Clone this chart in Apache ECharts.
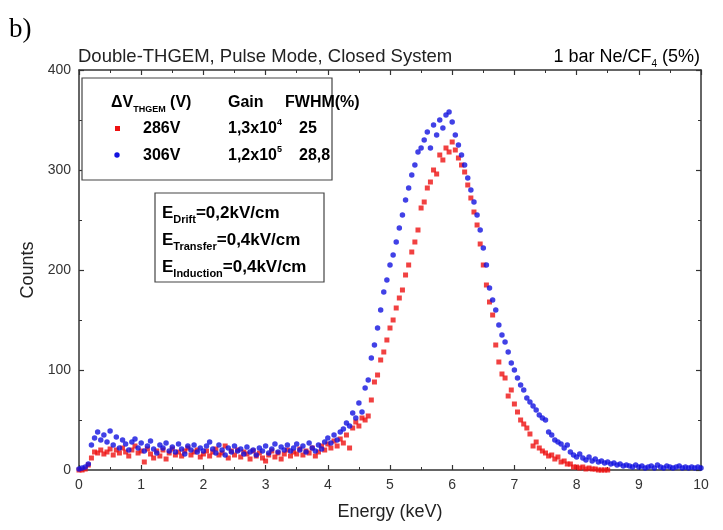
<!DOCTYPE html>
<html>
<head>
<meta charset="utf-8">
<script src="https://cdn.jsdelivr.net/npm/echarts@6/dist/echarts.min.js"></script>
<style>html,body{margin:0;padding:0;background:#fff}#c{width:723px;height:530px}</style>
</head>
<body>
<div id="c"></div>
<script>
// Energy bins (keV)
var energy = [
0,0.05,0.1,0.15,0.2,0.25,0.3,0.35,0.4,0.45,0.5,0.55,0.6,0.65,0.7,0.75,0.8,0.85,0.9,0.95,
1,1.05,1.1,1.15,1.2,1.25,1.3,1.35,1.4,1.45,1.5,1.55,1.6,1.65,1.7,1.75,1.8,1.85,1.9,1.95,
2,2.05,2.1,2.15,2.2,2.25,2.3,2.35,2.4,2.45,2.5,2.55,2.6,2.65,2.7,2.75,2.8,2.85,2.9,2.95,
3,3.05,3.1,3.15,3.2,3.25,3.3,3.35,3.4,3.45,3.5,3.55,3.6,3.65,3.7,3.75,3.8,3.85,3.9,3.95,
4,4.05,4.1,4.15,4.2,4.25,4.3,4.35,4.4,4.45,4.5,4.55,4.6,4.65,4.7,4.75,4.8,4.85,4.9,4.95,
5,5.05,5.1,5.15,5.2,5.25,5.3,5.35,5.4,5.45,5.5,5.55,5.6,5.65,5.7,5.75,5.8,5.85,5.9,5.95,
6,6.05,6.1,6.15,6.2,6.25,6.3,6.35,6.4,6.45,6.5,6.55,6.6,6.65,6.7,6.75,6.8,6.85,6.9,6.95,
7,7.05,7.1,7.15,7.2,7.25,7.3,7.35,7.4,7.45,7.5,7.55,7.6,7.65,7.7,7.75,7.8,7.85,7.9,7.95,
8,8.05,8.1,8.15,8.2,8.25,8.3,8.35,8.4,8.45,8.5,8.55,8.6,8.65,8.7,8.75,8.8,8.85,8.9,8.95,
9,9.05,9.1,9.15,9.2,9.25,9.3,9.35,9.4,9.45,9.5,9.55,9.6,9.65,9.7,9.75,9.8,9.85,9.9,9.95,10
];
// 286V counts (0 .. 8.5 keV)
var counts286 = [
0,0,1,5,12,18,17,20,16,18,21,15,20,17,22,18,14,20,24,17,
19,8,21,16,12,19,14,20,11,17,21,15,18,14,19,22,15,18,20,13,
16,19,14,18,21,15,17,24,12,19,15,20,13,18,16,11,19,14,17,12,
9,15,19,13,17,11,16,20,14,18,16,21,15,19,17,22,14,18,24,20,
26,22,29,24,31,27,35,22,42,48,44,52,50,54,70,88,95,110,118,130,
142,150,162,172,180,195,205,218,228,240,262,268,282,288,300,296,315,310,322,318,
328,320,312,305,298,285,272,258,245,226,205,185,168,155,125,108,96,92,74,80,
66,58,50,46,42,36,24,28,22,19,17,14,15,11,13,8,9,6,6,3,
3,2,3,1,2,1,1,0,0,0,0
];
// 306V counts (0 .. 10 keV)
var counts306 = [
1,2,3,6,25,32,38,30,35,28,39,25,33,22,30,26,20,28,31,22,
27,19,24,29,21,17,25,22,27,19,23,18,26,21,16,24,20,25,18,22,
19,24,28,21,17,25,20,15,22,18,24,19,21,16,23,18,20,15,22,19,
24,17,21,26,18,23,20,25,19,22,26,20,24,18,27,22,19,25,21,28,
32,27,35,30,38,41,47,44,57,52,67,58,82,90,112,125,142,160,178,190,
205,215,228,242,255,270,282,295,305,318,322,330,338,322,345,335,350,342,355,358,
348,335,325,315,305,292,280,268,255,240,222,205,182,170,160,145,135,128,118,107,
100,92,85,80,72,68,64,60,55,52,50,38,35,30,28,26,22,25,18,15,
13,16,12,10,13,9,11,8,9,7,8,6,7,5,6,4,5,4,3,5,
3,4,2,3,4,2,5,3,2,4,3,2,3,4,2,3,2,3,2,3,2
];
var xTicks = [0,1,2,3,4,5,6,7,8,9,10];
var yTicks = [0,100,200,300,400];

function pairs(vals){ var out=[]; for(var i=0;i<vals.length;i++){ out.push([energy[i], vals[i]]); } return out; }

var F = '"Liberation Sans", Arial, sans-serif';
var axisCol = '#333';
function mkAxis(pos, isX, show){
  return {
    type:'value', position:pos,
    min: isX ? xTicks[0] : yTicks[0],
    max: isX ? xTicks[xTicks.length-1] : yTicks[yTicks.length-1],
    interval: isX ? 1 : 100,
    axisLine:{show:true, onZero:false, lineStyle:{color:axisCol, width:1.5}},
    axisTick:{show:true, inside:true, length:5, lineStyle:{color:axisCol, width:1.2}},
    minorTick:{show:true, splitNumber:2, length:3, lineStyle:{color:axisCol, width:1}},
    splitLine:{show:false},
    axisLabel:{show:show, color:'#333', fontFamily:F, fontSize:14, margin:8},
    name: show ? (isX ? 'Energy (keV)' : 'Counts') : '',
    nameLocation:'middle',
    nameGap: isX ? 33 : 40,
    nameTextStyle:{color:'#222', fontFamily:F, fontSize:18}
  };
}

var chart = echarts.init(document.getElementById('c'), null, {renderer:'canvas'});
var rich = {
  a:{fontFamily:F, fontSize:16, fontWeight:'bold', color:'#111', lineHeight:22},
  s:{fontFamily:F, fontSize:9, fontWeight:'bold', color:'#111', verticalAlign:'bottom', lineHeight:10},
  p:{fontFamily:F, fontSize:9, fontWeight:'bold', color:'#111', verticalAlign:'top', lineHeight:10},
  e:{fontFamily:F, fontSize:17, fontWeight:'bold', color:'#111', lineHeight:24},
  es:{fontFamily:F, fontSize:11, fontWeight:'bold', color:'#111', verticalAlign:'bottom', lineHeight:11},
  n:{fontFamily:F, fontSize:18, color:'#222', lineHeight:24},
  ns:{fontFamily:F, fontSize:10, color:'#222', verticalAlign:'bottom', lineHeight:10}
};
function txt(x, y, t, align){
  return {type:'text', z:20, style:{x:x, y:y, text:t, rich:rich, align:align||'left', verticalAlign:'middle'}};
}

chart.setOption({
  animation:false,
  backgroundColor:'#fff',
  grid:{left:79, right:22, top:70, bottom:60, containLabel:false},
  xAxis:[mkAxis('bottom', true, true), mkAxis('top', true, false)],
  yAxis:[mkAxis('left', false, true), mkAxis('right', false, false)],
  series:[
    {type:'scatter', name:'286V', xAxisIndex:0, yAxisIndex:0, symbol:'rect', symbolSize:5,
     itemStyle:{color:'#ee1111'}, data:pairs(counts286), silent:true, z:2},
    {type:'scatter', name:'306V', xAxisIndex:0, yAxisIndex:0, symbol:'circle', symbolSize:5.5,
     itemStyle:{color:'#1212e0'}, data:pairs(counts306), silent:true, z:3}
  ],
  graphic:[
    {type:'text', style:{x:9, y:30, text:'b)', fontFamily:'"Liberation Serif", "Times New Roman", serif', fontSize:27, fill:'#000', verticalAlign:'middle'}},
    {type:'text', style:{x:78, y:57, text:'Double-THGEM, Pulse Mode, Closed System', fontFamily:F, fontSize:18.5, fill:'#222', verticalAlign:'middle'}},
    {type:'text', style:{x:700, y:57, text:'{n|1 bar Ne/CF}{ns|4}{n| (5%)}', rich:rich, align:'right', verticalAlign:'middle'}},
    {type:'rect', z:10, shape:{x:82, y:78, width:250, height:102}, style:{fill:'#fff', stroke:'#444', lineWidth:1.2}},
    txt(111, 103, '{a|ΔV}{s|THGEM}{a| (V)}'),
    txt(228, 103, '{a|Gain}'),
    txt(285, 103, '{a|FWHM(%)}'),
    {type:'rect', z:20, shape:{x:115, y:126, width:5, height:5}, style:{fill:'#ee1111'}},
    txt(143, 129, '{a|286V}'),
    txt(228, 129, '{a|1,3x10}{p|4}'),
    txt(299, 129, '{a|25}'),
    {type:'circle', z:20, shape:{cx:117, cy:155, r:2.7}, style:{fill:'#1212e0'}},
    txt(143, 156, '{a|306V}'),
    txt(228, 156, '{a|1,2x10}{p|5}'),
    txt(299, 156, '{a|28,8}'),
    {type:'rect', z:10, shape:{x:155, y:193, width:169, height:89}, style:{fill:'#fff', stroke:'#444', lineWidth:1.2}},
    txt(162, 213, '{e|E}{es|Drift}{e|=0,2kV/cm}'),
    txt(162, 240, '{e|E}{es|Transfer}{e|=0,4kV/cm}'),
    txt(162, 267, '{e|E}{es|Induction}{e|=0,4kV/cm}')
  ]
});
</script>
</body>
</html>
